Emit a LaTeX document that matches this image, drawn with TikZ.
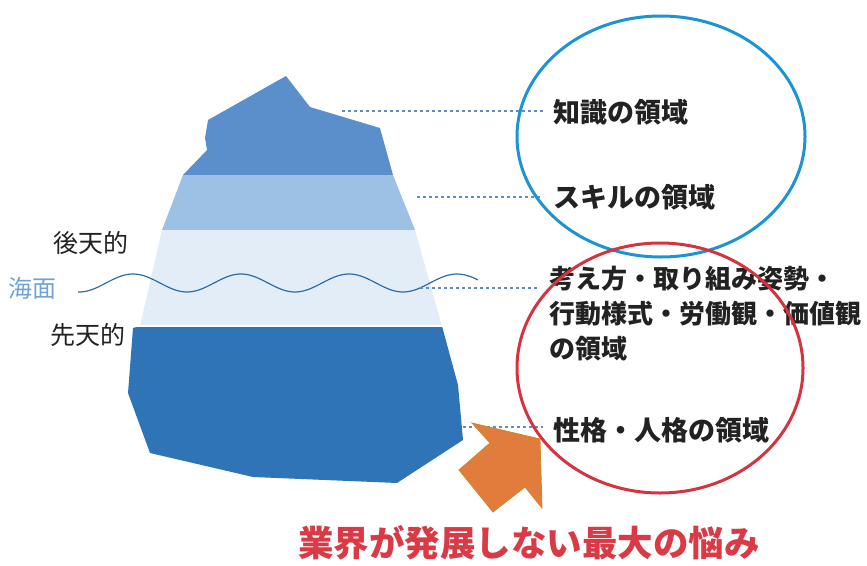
\documentclass[tikz,border=0pt]{standalone}
\usepackage{fontspec}
\setmainfont{Noto Sans CJK JP}
\usetikzlibrary{calc}
\usepackage{xcolor}
\definecolor{bergTop}{HTML}{5B8FCB}
\definecolor{bergMid}{HTML}{9DC1E4}
\definecolor{bergPale}{HTML}{E2EDF8}
\definecolor{bergDeep}{HTML}{2F74B6}
\definecolor{waveBlue}{HTML}{2C6BA3}
\definecolor{leaderBlue}{HTML}{5A8CC8}
\definecolor{seaBlue}{HTML}{6FA3D6}
\definecolor{inkGrey}{HTML}{222222}
\definecolor{ringBlue}{HTML}{1E93D2}
\definecolor{ringRed}{HTML}{D4333F}
\definecolor{alarmRed}{HTML}{D93A45}
\definecolor{arrowOrange}{HTML}{E27C3C}
\definecolor{arrowEdge}{HTML}{C98A2A}

\begin{document}
\begin{tikzpicture}[x=10pt, y=-10pt,
  label/.style={anchor=west, inner sep=0, text=inkGrey, font=\fontsize{27}{35}\selectfont\bfseries},
  side/.style={anchor=west, inner sep=0, text=inkGrey, font=\fontsize{25}{30}\selectfont},
  leader/.style={leaderBlue, line width=2.8pt, dash pattern=on 2.8pt off 3.2pt, shorten >=10pt},
  ring/.style={line width=3pt}]
\useasboundingbox (0,0) rectangle (86.7,56.5);
% iceberg, four bands cut by its outline
\begin{scope}
\clip (28.6,7.6) -- (31.0,10.7) -- (38.0,12.8) -- (39.3,17.5) -- (41.5,23.0) -- (44.2,32.6)
  -- (45.8,38.5) -- (46.3,44.0) -- (39.7,48.3) -- (25.3,47.7) -- (15.0,45.3) -- (12.8,39.3)
  -- (13.3,32.8) -- (14.0,32.6) -- (16.2,23.0) -- (18.3,17.5) -- (20.7,15.0) -- (20.5,13.8)
  -- (20.8,12.0) -- cycle;
\fill[bergTop] (10,5) rectangle (50,17.5);
\fill[bergMid] (10,17.5) rectangle (50,23.0);
\fill[bergPale] (10,23.0) rectangle (50,32.5);
\fill[bergDeep] (10,32.7) rectangle (50,50);
\end{scope}
% sea level
\draw[samples=120,domain=7.8:47.8,smooth,variable=\x,waveBlue,line width=1.2pt] plot ({\x},{28.3-0.9*cos(360*(\x-13.3)/10.8)});

\node[side] (acquired) at (5.3,24.3) {後天的};
\node[side, text=seaBlue, font=\fontsize{24}{30}\selectfont] (sea) at (0.8,28.8) {海面};
\node[side] (innate) at (5.0,33.5) {先天的};

\node[label] (knowledge) at (55.3,11.2) {知識の領域};
\node[label] (skill) at (55.3,19.7) {スキルの領域};
\node[label, anchor=base west, align=left, font=\fontsize{26}{35}\selectfont\bfseries] (mind) at (54.9,35.8) {考え方・取り組み姿勢・\\行動様式・労働観・価値観\\の領域};
\node[label] (nature) at (55.3,43.0) {性格・人格の領域};

\coordinate (kTop) at (34.2,11.1);
\coordinate (sTop) at (41.7,19.7);
\coordinate (seaLvl) at (42.0,28.8);
\coordinate (core) at (46.3,42.7);
\foreach \a/\b in {kTop/knowledge, sTop/skill, seaLvl/mind, core/nature}
  \draw[leader] (\a) -- (\a -| \b.west);

% arrow up to the red ring
\filldraw[fill=arrowOrange, draw=arrowEdge, line width=0.8pt] (54.0,43.9) -- (54.2,50.8) -- (52.5,48.7)
  -- (49.3,51.2) -- (45.9,47.0) -- (49.0,44.3) -- (47.2,42.3) -- cycle;

\draw[ring, ringBlue] (66.1,13.65) ellipse [x radius=14.4, y radius=12.05];
\draw[ring, ringRed] (66.0,36.8) ellipse [x radius=14.3, y radius=12.5];

\node[anchor=west, inner sep=0, text=alarmRed, font=\fontsize{35.5}{40}\selectfont\bfseries] (worry) at (29.8,54.3) {業界が発展しない最大の悩み};
\end{tikzpicture}
\end{document}
